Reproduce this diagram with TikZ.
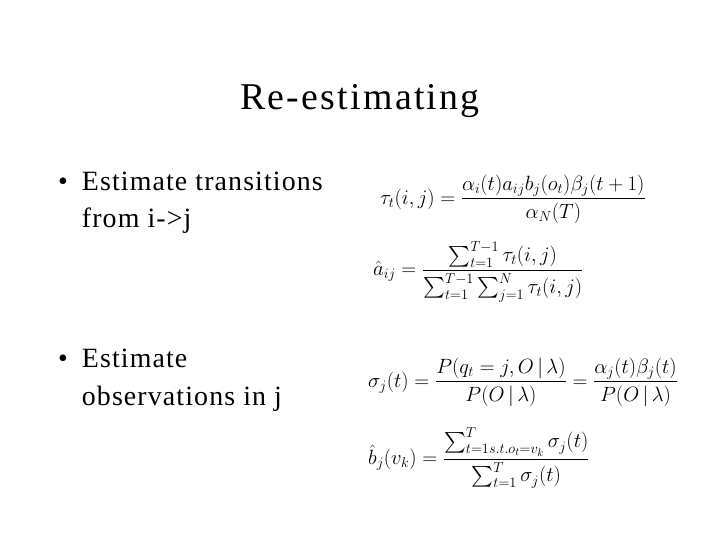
\documentclass[tikz,border=0pt]{standalone}
\usepackage{fontspec}
\setmainfont{Liberation Serif}
\usepackage{amsmath}
\begin{document}
\begin{tikzpicture}[x=1bp,y=-1bp,
  body/.style={anchor=base west,font=\fontsize{28}{38}\selectfont\addfontfeature{LetterSpace=4},align=left,inner sep=0pt},
  eq/.style={anchor=west,font=\fontsize{21}{25}\selectfont,inner sep=0pt}]
\useasboundingbox (0,0) rectangle (720,540);
\node[anchor=base,inner sep=0pt,font=\fontsize{38}{42}\selectfont\addfontfeature{LetterSpace=6}] (title) at (360,110) {Re-estimating};
\node[body] (b1) at (58,228) {•\enspace Estimate transitions\\\hphantom{•\enspace}from i->j};
\node[body] (b2) at (58,405) {•\enspace Estimate\\\hphantom{•\enspace}observations in j};
\node[eq] (f1) at (380,199) {$\displaystyle \tau_t(i,j)=\frac{\alpha_i(t)a_{ij}b_j(o_t)\beta_j(t+1)}{\alpha_N(T)}$};
\node[eq] (f2) at (373,272) {$\displaystyle \hat a_{ij}=\frac{\sum\nolimits_{t=1}^{T-1}\tau_t(i,j)}{\sum\nolimits_{t=1}^{T-1}\sum\nolimits_{j=1}^{N}\tau_t(i,j)}$};
\node[eq] (f3) at (368,382) {$\displaystyle \sigma_j(t)=\frac{P(q_t=j,O\,|\,\lambda)}{P(O\,|\,\lambda)}=\frac{\alpha_j(t)\beta_j(t)}{P(O\,|\,\lambda)}$};
\node[eq] (f4) at (368,458) {$\displaystyle \hat b_j(v_k)=\frac{\sum\nolimits_{t=1 s.t. o_t=v_k}^{T}\sigma_j(t)}{\sum\nolimits_{t=1}^{T}\sigma_j(t)}$};
\end{tikzpicture}
\end{document}
